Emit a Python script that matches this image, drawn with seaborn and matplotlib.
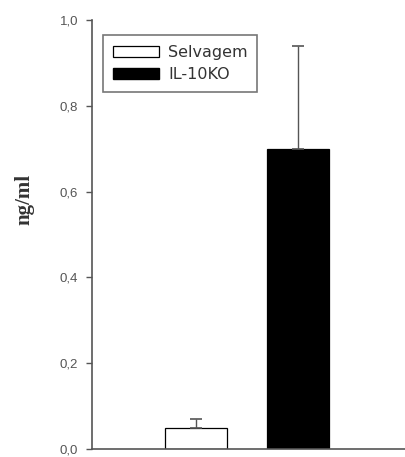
import matplotlib
matplotlib.use("Agg")
import matplotlib.pyplot as plt
import seaborn as sns
import pandas as pd
from matplotlib.patches import Patch

groups = ["Selvagem", "IL-10KO"]
values = [0.048, 0.70]
errors = [0.022, 0.24]
yticks = [0.0, 0.2, 0.4, 0.6, 0.8, 1.0]
ytick_labels = ["0,0", "0,2", "0,4", "0,6", "0,8", "1,0"]
colors = ["white", "black"]

sns.set_style("white")
plt.rcParams['font.family'] = ['Liberation Sans', 'DejaVu Sans']

df = pd.DataFrame({"group": groups, "value": values})

fig = plt.figure(figsize=(4.05, 4.57), dpi=100)
ax = fig.add_axes([0.227, 0.0175, 0.773, 0.9385])

sns.barplot(data=df, x="group", y="value", hue="group", palette=colors,
            width=0.61, edgecolor="black", linewidth=0.9, legend=False, ax=ax)
ax.errorbar(x=[0, 1], y=values, yerr=[[0, 0], errors], fmt="none",
            ecolor="#555555", elinewidth=1.0, capsize=4, capthick=1.2)

ax.set_xlim(-1.02, 2.05)
ax.set_ylim(0, 1.0)
ax.set_yticks(yticks)
ax.set_yticklabels(ytick_labels, fontsize=9.5, color="#555555")
ax.set_xticks([])
ax.set_xlabel("")
ax.set_ylabel("ng/ml", family="Liberation Serif", fontsize=15, fontweight="bold", color="#333333")
ax.yaxis.set_label_coords(-0.185, 0.583)
ax.tick_params(axis="y", direction="out", length=4, width=1, color="#555555", left=True, pad=6)
for s in ["top", "right"]:
    ax.spines[s].set_visible(False)
for s in ["left", "bottom"]:
    ax.spines[s].set_color("#555555")
    ax.spines[s].set_linewidth(1.2)

handles = [Patch(facecolor="white", edgecolor="black", linewidth=0.9),
           Patch(facecolor="black", edgecolor="black")]
leg = ax.legend(handles, groups, loc="upper left", bbox_to_anchor=(0.035, 0.965),
                borderaxespad=0, prop={"family": "DejaVu Sans", "size": 11.5},
                frameon=True, fancybox=False,
                handlelength=2.9, handleheight=0.62, borderpad=0.62,
                labelspacing=0.45, handletextpad=0.55)
leg.get_frame().set_edgecolor("#555555")
leg.get_frame().set_linewidth(1.2)
for t in leg.get_texts():
    t.set_color("#333333")

fig.savefig("out.png", dpi=100)
